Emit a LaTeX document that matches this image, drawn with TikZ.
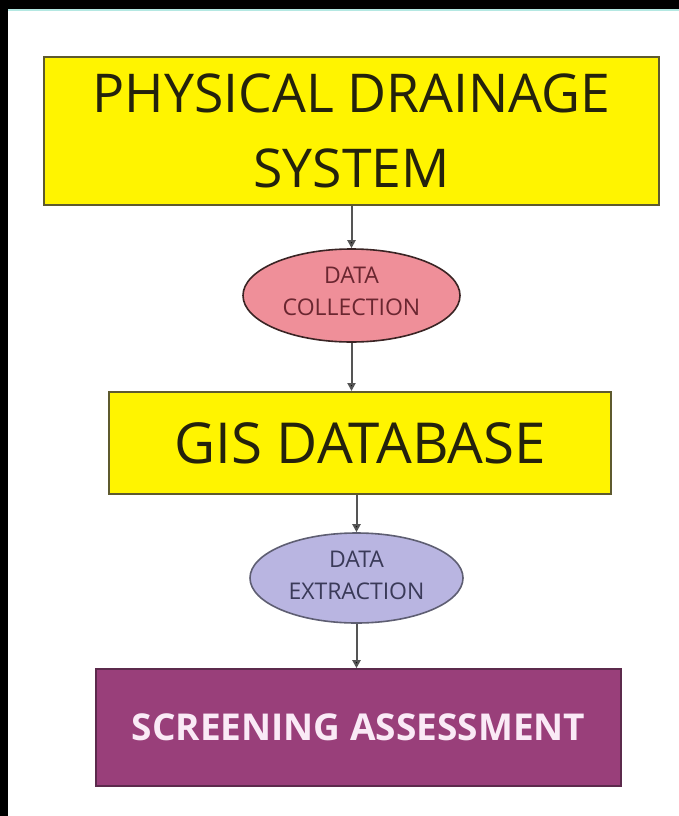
\documentclass[tikz,border=0pt]{standalone}
\usepackage{fontspec}
\setmainfont{Open Sans}
\usetikzlibrary{arrows.meta,shapes.geometric}
\definecolor{ybg}{HTML}{FFF400}
\definecolor{ybd}{HTML}{5E5A2E}
\definecolor{ytx}{HTML}{24220C}
\definecolor{pinkbg}{HTML}{EF8F99}
\definecolor{pinkbd}{HTML}{3A2424}
\definecolor{pinktx}{HTML}{6A2630}
\definecolor{lavbg}{HTML}{B9B5E1}
\definecolor{lavbd}{HTML}{5E5E72}
\definecolor{lavtx}{HTML}{3A3A58}
\definecolor{purbg}{HTML}{993F7A}
\definecolor{purbd}{HTML}{5C2A4C}
\definecolor{purtx}{HTML}{FAEAF6}
\definecolor{topline}{HTML}{B4E8E2}
\definecolor{arrcol}{HTML}{555555}
\tikzset{
  ybox/.style={draw=ybd, line width=2pt, fill=ybg, text=ytx, align=center, inner sep=0pt},
  oval/.style={ellipse, line width=1.6pt, align=center, inner sep=0pt, font=\fontsize{23}{32}\selectfont},
  pbox/.style={draw=purbd, line width=1.6pt, fill=purbg, text=purtx, align=center, inner sep=0pt, font=\fontsize{37}{44}\selectfont\bfseries},
  arr/.style={draw=arrcol, line width=2pt, -{Triangle[length=8pt,width=8pt,fill=black]}}
}
\begin{document}
\begin{tikzpicture}[x=1pt,y=-1pt]
\fill[white] (0,0) rectangle (679,816);
\useasboundingbox (0,0) rectangle (679,816);
\fill[black] (0,0) rectangle (679,9);
\fill[black] (0,0) rectangle (8,816);
\fill[topline] (8,9) rectangle (679,11.5);

\node[ybox, minimum width=615pt, minimum height=148pt, font=\fontsize{53.5}{75}\selectfont] (b1) at (351.5,131) {PHYSICAL DRAINAGE\\SYSTEM};
\node[oval, draw=pinkbd, fill=pinkbg, text=pinktx, text depth=9pt, minimum width=217pt, minimum height=93pt] (e1) at (351.5,295.5) {DATA\\COLLECTION};
\node[ybox, minimum width=502pt, minimum height=102pt, font=\fontsize{56.5}{60}\selectfont] (b2) at (360,443) {GIS DATABASE};
\node[oval, draw=lavbd, fill=lavbg, text=lavtx, text depth=6pt, minimum width=213pt, minimum height=90pt] (e2) at (356.5,578) {DATA\\EXTRACTION};
\node[pbox, minimum width=525pt, minimum height=117pt] (b3) at (358.5,727.5) {SCREENING ASSESSMENT};

\draw[arr] (e1.north |- b1.south) -- (e1.north);
\draw[arr] (e1.south) -- (e1.south |- b2.north);
\draw[arr] (e2.north |- b2.south) -- (e2.north);
\draw[arr] (e2.south) -- (e2.south |- b3.north);
\end{tikzpicture}
\end{document}
